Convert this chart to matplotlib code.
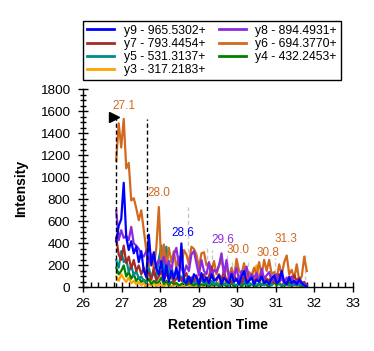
import numpy as np
import matplotlib
matplotlib.use("Agg")
from matplotlib import pyplot as plt
from matplotlib.ticker import MultipleLocator

plt.rcParams['font.family'] = ['Liberation Sans', 'DejaVu Sans']

# retention time grid (min), evenly sampled
rt = np.round(np.linspace(26.86, 31.80, 77), 3)

y9 = [420, 560, 620, 950, 460, 340, 420, 310, 370, 230, 330, 150, 100, 480, 200, 320,
      170, 120, 240, 60, 200, 50, 150, 80, 180, 60, 400, 60, 40, 100, 40, 120,
      90, 30, 130, 50, 90, 40, 120, 60, 80, 110, 30, 90, 60, 40, 120, 50,
      80, 30, 100, 150, 40, 60, 90, 30, 70, 50, 100, 40, 60, 30, 80, 110,
      40, 60, 150, 50, 30, 90, 40, 60, 30, 70, 40, 20, 10]
y8 = [700, 430, 520, 450, 470, 430, 550, 400, 380, 350, 300, 280, 330, 230, 300, 260,
      200, 250, 200, 280, 180, 240, 140, 300, 360, 200, 180, 120, 200, 150, 300, 330,
      220, 110, 250, 150, 120, 230, 90, 160, 140, 200, 310, 120, 250, 80, 140, 100,
      180, 60, 150, 100, 190, 70, 120, 90, 130, 60, 170, 80, 110, 140, 60, 90,
      120, 50, 80, 40, 90, 60, 100, 30, 60, 40, 50, 30, 20]
y7 = [450, 300, 250, 380, 220, 280, 170, 250, 150, 200, 120, 180, 90, 140, 70, 180,
      60, 100, 150, 60, 130, 80, 100, 50, 80, 120, 60, 90, 130, 50, 90, 60,
      110, 40, 80, 120, 60, 100, 190, 80, 60, 120, 70, 150, 50, 90, 40, 110,
      60, 80, 40, 100, 60, 80, 120, 50, 90, 60, 140, 50, 80, 60, 100, 40,
      70, 120, 90, 60, 40, 100, 80, 110, 60, 90, 40, 50, 20]
y6 = [1150, 1490, 1270, 1530, 1080, 1130, 790, 810, 720, 610, 700, 520, 340, 190, 300, 180,
      360, 730, 190, 390, 190, 360, 230, 330, 180, 280, 190, 340, 300, 210, 370, 350,
      300, 180, 310, 320, 200, 220, 150, 240, 120, 200, 250, 130, 170, 100, 180, 90,
      260, 150, 120, 220, 90, 140, 110, 180, 120, 230, 110, 250, 150, 250, 120, 140,
      80, 210, 110, 230, 290, 120, 160, 80, 210, 60, 100, 280, 150]
y5 = [250, 180, 330, 230, 260, 140, 200, 110, 150, 80, 100, 60, 50, 180, 90, 130,
      80, 260, 380, 150, 370, 120, 200, 80, 150, 60, 100, 40, 80, 50, 90, 40,
      60, 30, 70, 40, 50, 20, 60, 30, 40, 20, 50, 30, 40, 20, 50, 30,
      20, 40, 30, 60, 20, 40, 30, 50, 20, 40, 30, 20, 50, 30, 20, 40,
      110, 30, 20, 40, 30, 20, 30, 20, 30, 20, 30, 20, 10]
y4 = [180, 120, 150, 200, 100, 140, 80, 120, 60, 90, 50, 70, 40, 80, 30, 60,
      40, 50, 90, 30, 60, 20, 50, 30, 40, 20, 30, 50, 20, 40, 30, 20,
      40, 10, 30, 20, 40, 10, 30, 20, 30, 10, 20, 30, 10, 20, 40, 10,
      20, 30, 10, 40, 20, 10, 30, 20, 10, 30, 20, 50, 20, 10, 30, 60,
      20, 40, 10, 30, 20, 50, 10, 30, 20, 40, 10, 20, 10]
y3 = [100, 60, 120, 80, 50, 90, 40, 60, 30, 50, 20, 40, 10, 30, 20, 40,
      10, 30, 20, 10, 30, 20, 10, 20, 30, 10, 20, 10, 30, 20, 10, 20,
      10, 30, 20, 10, 40, 20, 10, 30, 20, 50, 30, 60, 40, 80, 50, 100,
      70, 40, 90, 60, 40, 120, 80, 150, 200, 110, 60, 90, 40, 70, 30, 50,
      20, 40, 30, 20, 30, 10, 20, 30, 10, 20, 10, 20, 10]

series_names = ['y9 - 965.5302+', 'y8 - 894.4931+', 'y7 - 793.4454+', 'y6 - 694.3770+',
                'y5 - 531.3137+', 'y4 - 432.2453+', 'y3 - 317.2183+']
series_values = [y9, y8, y7, y6, y5, y4, y3]
series_colors = ['#0000ff', '#8a2be2', '#a52a2a', '#d2691e', '#008b8b', '#008000', '#ffa500']

# peak apex labels
peak_text = ['27.1', '28.0', '28.6', '29.6', '30.0', '30.8', '31.3']
peak_rt = [27.06, 27.97, 28.60, 29.63, 30.02, 30.80, 31.25]
peak_height = [1618, 827, 464, 400, 309, 285, 410]
peak_color = ['#d2691e', '#d2691e', '#0000ff', '#8a2be2', '#d2691e', '#d2691e', '#d2691e']

# integration boundaries and identification marker
bound_rt = [26.86, 27.66]
bound_top = [1545, 1525]
id_rt, id_height = 26.81, 1545

# grey dashed markers
mark_rt = [28.72, 29.21, 29.34, 29.73, 29.86, 30.15, 30.28, 30.98, 31.76]
mark_top = [727, 382, 336, 318, 227, 245, 227, 264, 291]

fig = plt.figure(figsize=(3.74, 3.51), dpi=100)
ax = fig.add_axes([0.222, 0.181, 0.722, 0.565])

for x, top in zip(mark_rt, mark_top):
    ax.plot([x, x], [0, top], color='#c8c8c8', lw=1, ls=(0, (3, 2)), zorder=1)

lines = {}
for name, vals, col in reversed(list(zip(series_names, series_values, series_colors))):
    ln, = ax.plot(rt, vals, color=col, lw=1.6, label=name, zorder=2)
    lines[name] = ln

for x, top in zip(bound_rt, bound_top):
    ax.plot([x, x], [0, top], color='black', lw=1, ls=(0, (3, 2)), zorder=3)
ax.plot([id_rt], [id_height], marker='>', color='black', ms=6.5, zorder=4)

for txt, x, h, c in zip(peak_text, peak_rt, peak_height, peak_color):
    ax.text(x, h, txt, color=c, fontsize=8.5, ha='center', va='baseline', zorder=5)

ax.set_xlim(26, 33)
ax.set_ylim(0, 1800)
ax.xaxis.set_major_locator(MultipleLocator(1))
ax.xaxis.set_minor_locator(MultipleLocator(0.2))
ax.yaxis.set_major_locator(MultipleLocator(200))
ax.yaxis.set_minor_locator(MultipleLocator(50))
ax.tick_params(which='major', direction='inout', length=7, width=1, labelsize=9.7)
ax.tick_params(axis='y', which='major', pad=6)
ax.tick_params(axis='x', which='major', pad=4)
ax.tick_params(axis='y', which='minor', direction='inout', length=4.8, width=1)
ax.tick_params(axis='x', which='minor', direction='in', length=3.6, width=1)
for side in ['top', 'right']:
    ax.spines[side].set_visible(False)
for side in ['left', 'bottom']:
    ax.spines[side].set_linewidth(1)

ax.set_xlabel('Retention Time', fontsize=10, fontweight='bold', labelpad=6)
ax.set_ylabel('Intensity', fontsize=10, fontweight='bold', labelpad=8)

order = ['y9 - 965.5302+', 'y7 - 793.4454+', 'y5 - 531.3137+', 'y3 - 317.2183+',
         'y8 - 894.4931+', 'y6 - 694.3770+', 'y4 - 432.2453+']
leg = fig.legend([lines[n] for n in order], order, loc='upper left',
                 bbox_to_anchor=(0.222, 0.940), ncol=2, fontsize=8.7,
                 frameon=True, fancybox=False, edgecolor='black', framealpha=1,
                 handlelength=2.3, handletextpad=0.75, columnspacing=1.1,
                 labelspacing=0.1, borderpad=0.3, borderaxespad=0)
leg.get_frame().set_linewidth(1)
for h in leg.get_lines():
    h.set_linewidth(2)

fig.savefig('out.png', dpi=100)
